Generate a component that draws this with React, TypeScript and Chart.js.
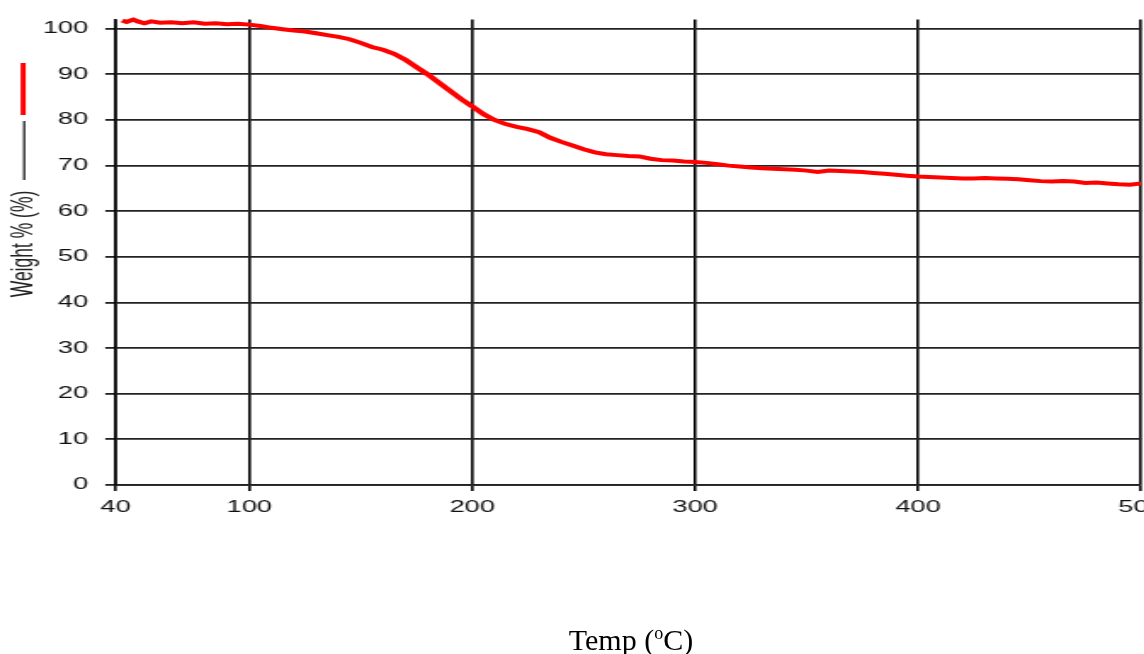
import React, { useEffect, useRef } from 'react';
import { Chart, registerables } from 'chart.js';

Chart.register(...registerables);

// ---- data ----
const temps = [
  43, 45, 48, 50, 53, 56, 60, 65, 70, 75, 80, 85, 90, 95, 100, 105, 110, 115, 120, 125,
  130, 135, 140, 145, 150, 155, 160, 165, 170, 175, 180, 185, 190, 195, 200, 205, 210, 215,
  220, 225, 230, 235, 240, 245, 250, 255, 260, 265, 270, 275, 280, 285, 290, 295, 300, 305,
  310, 315, 320, 325, 330, 335, 340, 345, 350, 355, 360, 365, 370, 375, 380, 385, 390, 395,
  400, 405, 410, 415, 420, 425, 430, 435, 440, 445, 450, 455, 460, 465, 470, 475, 480, 485,
  490, 495, 500,
];
const weights = [
  101.8, 101.5, 102.0, 101.6, 101.2, 101.6, 101.3, 101.4, 101.2, 101.4, 101.1, 101.2, 101.0,
  101.1, 100.9, 100.6, 100.2, 99.9, 99.6, 99.4, 99.0, 98.6, 98.2, 97.7, 96.9, 96.0, 95.4,
  94.5, 93.2, 91.6, 90.0, 88.2, 86.4, 84.6, 83.0, 81.3, 80.0, 79.1, 78.5, 78.0, 77.3, 76.1,
  75.2, 74.4, 73.6, 72.9, 72.5, 72.3, 72.1, 72.0, 71.5, 71.2, 71.1, 70.9, 70.8, 70.6, 70.3,
  70.0, 69.8, 69.6, 69.4, 69.3, 69.2, 69.1, 68.9, 68.6, 68.9, 68.8, 68.7, 68.6, 68.4, 68.2,
  68.0, 67.8, 67.6, 67.5, 67.4, 67.3, 67.2, 67.2, 67.3, 67.2, 67.1, 67.0, 66.8, 66.6, 66.5,
  66.6, 66.5, 66.2, 66.3, 66.1, 65.9, 65.8, 66.1,
];
const xTicks = [40, 100, 200, 300, 400, 500];
const yTicks = [0, 10, 20, 30, 40, 50, 60, 70, 80, 90, 100];
const xMin = 40;
const xMax = 500;
const yMin = 0;
const yMax = 102;
const yTitle = 'Weight % (%)';
const xTitleMain = 'Temp (';
const xTitleSup = 'o';
const xTitleEnd = 'C)';

// ---- layout (unstretched canvas units; the whole chart is stretched horizontally) ----
const SX = 1.7;
const W = 700;
const H = 654;
const AREA_LEFT = 67.9;
const AREA_RIGHT = 671.2;
const AREA_TOP = 17;
const AREA_BOTTOM = 485;

export default function App() {
  const ref = useRef<HTMLCanvasElement | null>(null);

  useEffect(() => {
    if (!ref.current) return;
    const yTitlePlugin = {
      id: 'yTitleLegend',
      afterDraw(chart: any) {
        const ctx = chart.ctx as CanvasRenderingContext2D;
        ctx.save();
        // legend keys
        ctx.strokeStyle = '#ff0000';
        ctx.lineWidth = 3;
        ctx.beginPath();
        ctx.moveTo(13.6, 63);
        ctx.lineTo(13.6, 115);
        ctx.stroke();
        ctx.strokeStyle = '#111';
        ctx.lineWidth = 1.2;
        ctx.beginPath();
        ctx.moveTo(14.2, 121);
        ctx.lineTo(14.2, 180);
        ctx.stroke();
        // title
        ctx.translate(19.4, 244);
        ctx.rotate(-Math.PI / 2);
        ctx.fillStyle = '#222';
        ctx.font = '17.5px "Liberation Sans", Arial, sans-serif';
        ctx.textAlign = 'center';
        ctx.textBaseline = 'alphabetic';
        ctx.fillText(yTitle, 0, 0);
        ctx.restore();
      },
    };

    const tickFont = { family: '"Liberation Sans", Arial, sans-serif', size: 16 };

    const chart = new Chart(ref.current, {
      type: 'line',
      data: {
        datasets: [
          {
            data: temps.map((t, i) => ({ x: t, y: weights[i] })),
            borderColor: '#ff0000',
            backgroundColor: '#ff0000',
            borderWidth: 4,
            pointRadius: 0,
            tension: 0,
            fill: false,
            clip: false as any,
          },
        ],
      },
      options: {
        animation: false,
        responsive: false,
        devicePixelRatio: 1,
        layout: { padding: { left: 0, top: AREA_TOP, right: W - AREA_RIGHT, bottom: 0 } },
        plugins: { legend: { display: false }, tooltip: { enabled: false }, title: { display: false } },
        scales: {
          x: {
            type: 'linear',
            min: xMin,
            max: xMax,
            afterBuildTicks: (s: any) => {
              s.ticks = xTicks.map((v) => ({ value: v }));
            },
            afterFit: (s: any) => {
              s.height = H - AREA_BOTTOM;
            },
            grid: { color: '#000', lineWidth: 1.6, tickLength: 6 },
            border: { color: '#222', width: 1.8 },
            ticks: { font: tickFont, color: '#111', padding: 7, maxRotation: 0, autoSkip: false },
          },
          y: {
            type: 'linear',
            min: yMin,
            max: yMax,
            afterBuildTicks: (s: any) => {
              s.ticks = yTicks.map((v) => ({ value: v }));
            },
            afterFit: (s: any) => {
              s.width = AREA_LEFT;
            },
            grid: { color: '#222', lineWidth: 1.8, tickLength: 6 },
            border: { color: '#000', width: 1.6 },
            ticks: { font: tickFont, color: '#111', padding: 10, autoSkip: false },
          },
        },
      },
      plugins: [yTitlePlugin],
    });
    return () => chart.destroy();
  }, []);

  return (
    <div
      style={{
        position: 'fixed',
        left: 0,
        top: 0,
        width: 1144,
        height: 654,
        overflow: 'hidden',
        background: '#fff',
      }}
    >
      <div
        style={{
          position: 'absolute',
          left: 0,
          top: 0,
          width: W,
          height: H,
          transform: `scaleX(${SX})`,
          transformOrigin: '0 0',
        }}
      >
        <canvas ref={ref} width={W} height={H} style={{ width: W, height: H, display: 'block' }} />
      </div>
      <div
        style={{
          position: 'absolute',
          left: 331,
          top: 625,
          width: 600,
          textAlign: 'center',
          fontFamily: '"Liberation Serif", "Times New Roman", serif',
          fontSize: 30,
          lineHeight: '30px',
          color: '#000',
          whiteSpace: 'nowrap',
        }}
      >
        {xTitleMain}
        <sup style={{ fontSize: '0.6em', lineHeight: 0, verticalAlign: 'super' }}>{xTitleSup}</sup>
        {xTitleEnd}
      </div>
    </div>
  );
}
